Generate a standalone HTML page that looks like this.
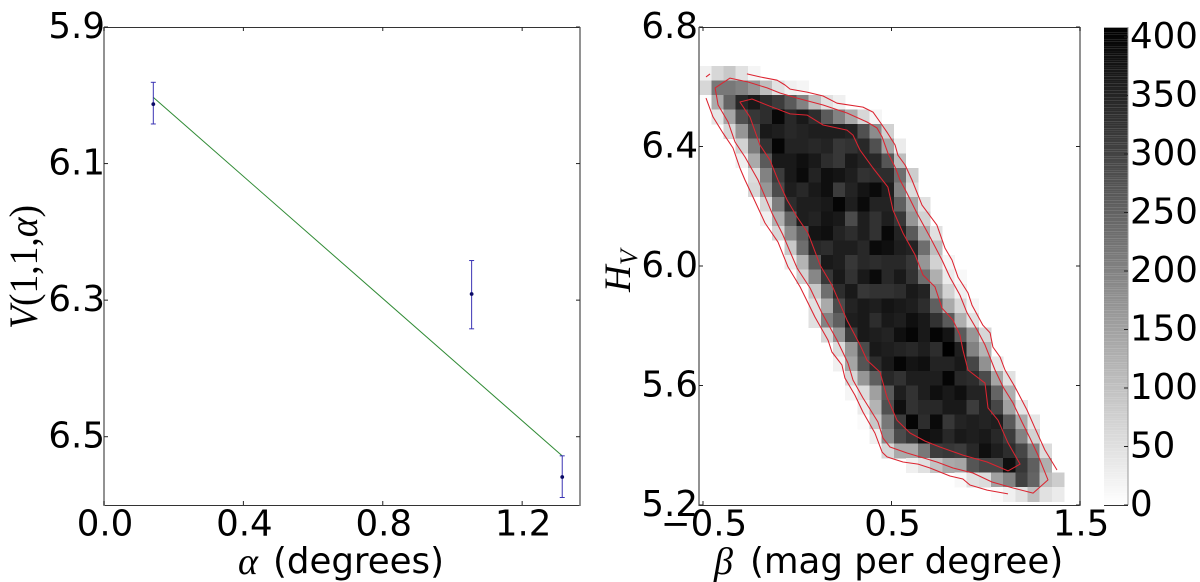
<!DOCTYPE html>
<html lang="en">
<head>
<meta charset="utf-8">
<title>Phase curve and posterior density</title>
<style>
html,body{margin:0;padding:0;background:#fff;width:1200px;height:582px;overflow:hidden}
svg{display:block}
text{font-family:"DejaVu Sans","Liberation Sans",sans-serif;fill:#000}
.tick{font-size:35.6px}
.math{font-family:"Liberation Serif",serif;font-style:italic}
.roman{font-family:"Liberation Serif",serif}
</style>
</head>
<body>
<svg id="figure" width="1200" height="582" viewBox="0 0 1200 582" xmlns="http://www.w3.org/2000/svg">
  <g id="left-panel"></g>
  <g id="right-panel"></g>
  <g id="colorbar"></g>

  <g>
    <text class="math" x="238" y="574" font-size="38">α</text>
    <text x="273" y="573" font-size="35.6">(degrees)</text>
  </g>
  <g transform="translate(37,329) rotate(-90)">
    <text class="roman" x="0" y="0" font-size="40" textLength="124" lengthAdjust="spacingAndGlyphs"><tspan class="math">V</tspan>(1,1,<tspan class="math">α</tspan>)</text>
  </g>
  <g>
    <text class="math" x="714" y="574" font-size="38">β</text>
    <text x="750" y="573" font-size="35.6">(mag per degree)</text>
  </g>
  <g transform="translate(630,292) rotate(-90)">
    <text class="math" x="0" y="0" font-size="37">H</text>
    <text class="math" x="27" y="7" font-size="25">V</text>
  </g>
</svg>
<script>
// ---------- left panel data ----------
const phaseAngles = [0.1415, 1.055, 1.315];
const magnitudes = [6.013, 6.291, 6.559];
const errLow = [5.981, 6.242, 6.528];
const errHigh = [6.042, 6.342, 6.589];
const fitAlpha = [0.1415, 1.315];
const fitMagnitude = [6.003, 6.528];
const leftXTicks = [0, 0.4, 0.8, 1.2];
const leftXLabels = ["0.0", "0.4", "0.8", "1.2"];
const leftYTicks = [5.9, 6.1, 6.3, 6.5];
const leftYLabels = ["5.9", "6.1", "6.3", "6.5"];

// ---------- right panel data ----------
const rightXTicks = [-0.5, 0.5, 1.5];
const rightXLabels = ["\u22120.5", "0.5", "1.5"];
const rightYTicks = [6.8, 6.4, 6.0, 5.6, 5.2];
const rightYLabels = ["6.8", "6.4", "6.0", "5.6", "5.2"];
const colorbarTicks = [0, 50, 100, 150, 200, 250, 300, 350, 400];
const colorbarLabels = ["0", "50", "100", "150", "200", "250", "300", "350", "400"];

const binBetaStart = -0.52;
const binBetaWidth = 0.0645;
const binHTop = 6.669;
const binHHeight = 0.0486;
const rowFirstCol = [0,0,0,1,2,3,3,4,4,5,5,6,7,7,8,9,9,9,10,11,11,12,12,13,13,14,15,17,21,24];
const rowCounts = [
 [24,64,88,48,16],
 [64,216,216,200,168,104,48,24,16],
 [4,136,248,344,368,336,312,264,200,104,48,24],
 [40,144,280,320,336,395,344,368,336,264,200,136,64,16],
 [64,168,288,368,360,344,352,360,360,360,352,280,184,72],
 [72,208,328,400,352,352,344,352,320,328,344,280,144,32],
 [24,136,264,368,368,384,368,336,320,368,352,344,272,104],
 [56,200,312,368,392,352,384,376,360,328,336,336,232,80],
 [64,168,288,360,344,368,384,312,352,376,392,360,200,56],
 [64,208,336,360,360,368,400,360,392,352,352,256,144,48],
 [24,128,248,360,352,376,368,288,360,328,360,320,168,72],
 [64,184,256,376,384,352,336,360,328,396,352,264,136,48],
 [88,232,344,336,360,360,344,392,384,360,352,232,104],
 [32,120,264,368,360,320,344,336,344,344,320,168,72,16],
 [72,192,320,368,328,368,392,344,368,328,232,128,32,12],
 [88,232,336,368,320,328,328,336,368,352,168,72,24],
 [48,136,288,352,368,360,376,368,360,336,256,136,64,16],
 [48,200,256,360,368,336,368,360,384,368,328,264,128,48],
 [64,168,312,368,360,352,384,400,368,400,376,264,168,64],
 [56,168,288,368,360,352,344,360,336,408,360,200,120],
 [24,144,272,336,368,400,376,384,352,352,368,296,176,40],
 [64,168,256,344,328,360,360,360,400,344,336,288,144,48],
 [16,56,152,264,360,328,360,384,368,384,352,352,248,128],
 [32,120,280,384,328,344,344,368,368,312,352,296,152,40],
 [8,88,216,312,400,336,392,320,352,360,352,360,264,136,40],
 [24,184,288,320,384,376,344,368,360,368,344,312,200,72],
 [64,136,136,216,312,320,312,344,384,360,336,296,200,56],
 [24,48,96,136,144,272,296,296,384,320,256,128],
 [12,48,56,152,200,304,248,104,80],
 [8,24,48,104,48,32]
];

const contourOuterTop = [[-0.267,6.643],[-0.198,6.633],[-0.107,6.622],[-0.065,6.606],[-0.038,6.592],[0.052,6.582],[0.137,6.569],[0.211,6.545],[0.349,6.532],[0.402,6.515],[0.439,6.482],[0.476,6.448],[0.519,6.405],[0.534,6.371],[0.572,6.338],[0.609,6.288],[0.662,6.204],[0.741,6.137],[0.784,6.060],[0.821,6.020],[0.853,5.963],[0.906,5.910],[0.927,5.869],[0.985,5.802],[1.023,5.776],[1.038,5.729],[1.076,5.695],[1.102,5.652],[1.155,5.595],[1.219,5.518],[1.261,5.458],[1.314,5.384],[1.378,5.317]];
const contourOuterBottom = [[-0.484,6.562],[-0.447,6.499],[-0.394,6.445],[-0.341,6.395],[-0.304,6.328],[-0.277,6.288],[-0.240,6.238],[-0.171,6.144],[-0.102,6.080],[-0.049,5.997],[0.015,5.930],[0.094,5.829],[0.163,5.752],[0.184,5.712],[0.237,5.669],[0.253,5.625],[0.306,5.568],[0.349,5.511],[0.412,5.441],[0.450,5.377],[0.476,5.361],[0.561,5.344],[0.641,5.337],[0.704,5.324],[0.810,5.297],[0.879,5.287],[0.916,5.267],[1.007,5.250],[1.118,5.237]];
const contourOuterDash = [[-0.484,6.633],[-0.463,6.643]];
const contourMiddle = [[-0.436,6.596],[-0.357,6.629],[-0.261,6.616],[-0.160,6.596],[-0.092,6.579],[-0.001,6.562],[0.137,6.539],[0.264,6.512],[0.370,6.482],[0.423,6.462],[0.450,6.432],[0.481,6.378],[0.519,6.331],[0.545,6.288],[0.582,6.244],[0.635,6.177],[0.704,6.097],[0.768,6.020],[0.810,5.963],[0.863,5.903],[0.901,5.843],[0.954,5.786],[0.996,5.736],[1.049,5.652],[1.092,5.595],[1.145,5.541],[1.192,5.478],[1.235,5.424],[1.277,5.367],[1.330,5.284],[1.251,5.240],[1.145,5.257],[1.033,5.277],[0.932,5.307],[0.826,5.324],[0.741,5.344],[0.651,5.361],[0.582,5.374],[0.492,5.394],[0.455,5.424],[0.428,5.478],[0.349,5.558],[0.296,5.618],[0.269,5.675],[0.211,5.752],[0.131,5.843],[0.068,5.926],[-0.001,5.993],[-0.076,6.104],[-0.134,6.177],[-0.208,6.288],[-0.277,6.365],[-0.330,6.415],[-0.367,6.482],[-0.420,6.539]];
const contourInner = [[-0.304,6.549],[-0.240,6.559],[-0.145,6.535],[-0.038,6.509],[0.052,6.505],[0.137,6.472],[0.264,6.455],[0.296,6.438],[0.333,6.388],[0.402,6.328],[0.481,6.264],[0.508,6.187],[0.561,6.110],[0.625,6.037],[0.667,5.970],[0.731,5.930],[0.768,5.859],[0.826,5.819],[0.863,5.769],[0.879,5.719],[0.906,5.652],[0.996,5.608],[1.012,5.525],[1.065,5.484],[1.118,5.408],[1.182,5.337],[1.118,5.314],[1.007,5.344],[0.879,5.367],[0.757,5.394],[0.678,5.414],[0.598,5.441],[0.529,5.484],[0.476,5.561],[0.439,5.645],[0.370,5.685],[0.333,5.736],[0.264,5.819],[0.184,5.936],[0.121,6.003],[0.057,6.110],[-0.001,6.164],[-0.054,6.221],[-0.102,6.288],[-0.145,6.355],[-0.198,6.405],[-0.251,6.499]];

// ---------- helpers ----------
const NS = "http://www.w3.org/2000/svg";
function make(parent, tag, attrs, txt) {
  const el = document.createElementNS(NS, tag);
  for (const k in attrs) el.setAttribute(k, attrs[k]);
  if (txt !== undefined) el.textContent = txt;
  parent.appendChild(el);
  return el;
}
const linear = (d0, d1, r0, r1) => v => r0 + (v - d0) * (r1 - r0) / (d1 - d0);

// axes boxes
const L = {l: 104, r: 580, t: 27, b: 505};
const R = {l: 699, r: 1080, t: 27, b: 505};
const xL = linear(0, 1.366, L.l, L.r);
const yL = linear(5.9, 6.6, L.t, L.b);
const xR = linear(-0.5, 1.5, 703, 1080);
const yR = linear(5.2, 6.8, 505, 27);
const maxCount = 408;
const gray = v => { const g = Math.round(255 * (1 - Math.min(v, maxCount) / maxCount)); return `rgb(${g},${g},${g})`; };

function frame(parent, box) {
  const top = make(parent, "line", {x1: box.l, x2: box.r, y1: box.t + 0.5, y2: box.t + 0.5, stroke: "#333", "stroke-width": 1});
  
  
  const bottom = make(parent, "line", {x1: box.l, x2: box.r, y1: box.b + 0.5, y2: box.b + 0.5, stroke: "#333", "stroke-width": 1});
  
  
  const left = make(parent, "line", {x1: box.l, x2: box.l, y1: box.t, y2: box.b + 1, stroke: "#777", "stroke-width": 1.6});
  
  
  const right = make(parent, "line", {x1: box.r, x2: box.r, y1: box.t, y2: box.b + 1, stroke: "#777", "stroke-width": 1.6});
  
  
}

function axisTicks(parent, box, xTicks, xLabels, xScale, yTicks, yLabels, yScale, yLabelX) {
  xTicks.forEach((v, i) => {
    const x = xScale(v);
    const t1 = make(parent, "line", {x1: x, x2: x, y1: box.b, y2: box.b - 4, stroke: "#222", "stroke-width": 1});
    
    
    const t2 = make(parent, "line", {x1: x, x2: x, y1: box.t, y2: box.t + 4, stroke: "#222", "stroke-width": 1});
    
    
    const lab = make(parent, "text", {class: "tick", x: x + 1, y: 535.5, "text-anchor": "middle"}, xLabels[i]);
    
    
  });
  yTicks.forEach((v, i) => {
    const y = yScale(v);
    const t1 = make(parent, "line", {x1: box.l, x2: box.l + 4, y1: y, y2: y, stroke: "#222", "stroke-width": 1});
    
    
    const t2 = make(parent, "line", {x1: box.r, x2: box.r - 4, y1: y, y2: y, stroke: "#222", "stroke-width": 1});
    
    
    const lab = make(parent, "text", {class: "tick", x: yLabelX, y: y + 11, "text-anchor": "end"}, yLabels[i]);
    
    
  });
}

// ---------- left panel ----------
const left = document.getElementById("left-panel");
const fitLine = make(left, "line", {x1: xL(fitAlpha[0]), y1: yL(fitMagnitude[0]), x2: xL(fitAlpha[1]), y2: yL(fitMagnitude[1]), stroke: "#2f8a34", "stroke-width": 1});


phaseAngles.forEach((a, i) => {
  const x = xL(a);
  const bar = make(left, "line", {x1: x, x2: x, y1: yL(errLow[i]), y2: yL(errHigh[i]), stroke: "#3a34b4", "stroke-width": 1});
  
  
  const capTop = make(left, "line", {x1: x - 2.5, x2: x + 2.5, y1: yL(errLow[i]), y2: yL(errLow[i]), stroke: "#3a34b4", "stroke-width": 1});
  
  
  const capBottom = make(left, "line", {x1: x - 2.5, x2: x + 2.5, y1: yL(errHigh[i]), y2: yL(errHigh[i]), stroke: "#3a34b4", "stroke-width": 1});
  
  
  const pt = make(left, "circle", {cx: x, cy: yL(magnitudes[i]), r: 1.9, fill: "#0b0b66"});
  
  
});
frame(left, L);
axisTicks(left, L, leftXTicks, leftXLabels, xL, leftYTicks, leftYLabels, yL, 105);

// ---------- right panel ----------
const right = document.getElementById("right-panel");
const cells = make(right, "g", {"shape-rendering": "crispEdges"});


rowCounts.forEach((row, r) => {
  row.forEach((v, k) => {
    const c = rowFirstCol[r] + k;
    const x0 = xR(binBetaStart + c * binBetaWidth);
    const x1 = xR(binBetaStart + (c + 1) * binBetaWidth);
    const y0 = yR(binHTop - r * binHHeight);
    const y1 = yR(binHTop - (r + 1) * binHHeight);
    const cell = make(cells, "rect", {x: x0, y: y0, width: x1 - x0 + 0.3, height: y1 - y0 + 0.3, fill: gray(v)});
    
    
  });
});
const pathFrom = (pts, close) => pts.map((p, i) => (i ? "L" : "M") + xR(p[0]).toFixed(1) + " " + yR(p[1]).toFixed(1)).join("") + (close ? "Z" : "");
const contourStyle = {fill: "none", stroke: "#dc2430", "stroke-width": 1.05, "stroke-linejoin": "round"};
const c1 = make(right, "path", Object.assign({d: pathFrom(contourOuterTop, false)}, contourStyle));


const c2 = make(right, "path", Object.assign({d: pathFrom(contourOuterBottom, false)}, contourStyle));


const c3 = make(right, "path", Object.assign({d: pathFrom(contourOuterDash, false)}, contourStyle));


const c4 = make(right, "path", Object.assign({d: pathFrom(contourMiddle, true)}, contourStyle));


const c5 = make(right, "path", Object.assign({d: pathFrom(contourInner, true)}, contourStyle));


frame(right, R);
axisTicks(right, R, rightXTicks, rightXLabels, xR, rightYTicks, rightYLabels, yR, 698);

// ---------- colorbar ----------
const cb = document.getElementById("colorbar");
const yC = linear(0, 400, 505, 37);
for (let v = 0; v < maxCount; v += 2) {
  const top = yC(v + 2);
  const band = make(cb, "rect", {x: 1104, y: top, width: 24, height: yC(v) - top, fill: gray(v + 1)});
  
  
}
const cbBottom = make(cb, "line", {x1: 1104, x2: 1128, y1: 505.5, y2: 505.5, stroke: "#333", "stroke-width": 1});


const cbRight = make(cb, "line", {x1: 1128, x2: 1128, y1: 27, y2: 505, stroke: "#999", "stroke-width": 1});


colorbarTicks.forEach((v, i) => {
  const y = yC(v);
  const tick = make(cb, "line", {x1: 1124, x2: 1128, y1: y, y2: y, stroke: "#222", "stroke-width": 1});
  
  
  const lab = make(cb, "text", {class: "tick", x: 1130, y: y + 11}, colorbarLabels[i]);
  
  
});
</script>
</body>
</html>
